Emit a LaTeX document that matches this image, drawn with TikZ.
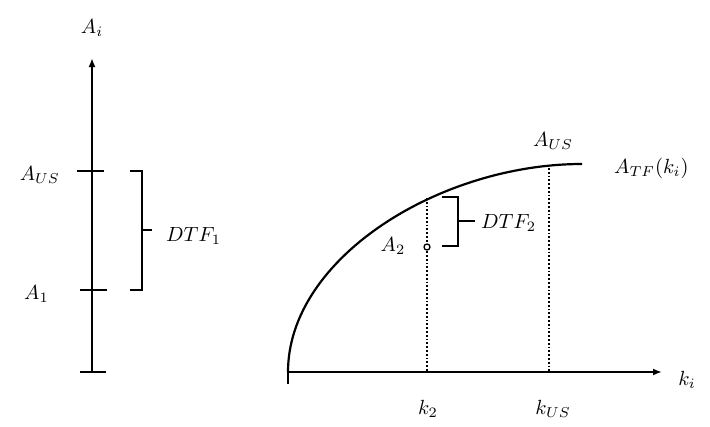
\documentclass[tikz,border=0pt]{standalone}
\usetikzlibrary{arrows.meta}
\newcommand\lab[1]{\scalebox{2.05}{$#1$}}
\begin{document}
\begin{tikzpicture}[x=1pt,y=-1pt,
  axis/.style={line width=2.2pt,-{Latex[length=9pt,width=7pt]}},
  plain/.style={line width=2.2pt},
  tickline/.style={line width=2pt},
  brace/.style={line width=1.8pt},
  guide/.style={line width=1.8pt,dotted},
  lbl/.style={inner sep=0pt}]
\useasboundingbox (0,0) rectangle (710,426);
% left axis
\coordinate (lb) at (92,372);
\coordinate (lt) at (92,58);
\draw[axis] (lb) -- (lt);
\node[lbl] (Ai) at (92,28) {\lab{A_i}};
\coordinate (bt1) at (80,372); \coordinate (bt2) at (106,372);
\draw[tickline] (bt1) -- (bt2);
\coordinate (us1) at (77,171); \coordinate (us2) at (104,171);
\draw[tickline] (us1) -- (us2);
\coordinate (a11) at (80,290); \coordinate (a12) at (107,290);
\draw[tickline] (a11) -- (a12);
\node[lbl,anchor=east] (AUSl) at (60,175) {\lab{A_{US}}};
\node[lbl,anchor=east] (A1l) at (49,294) {\lab{A_1}};
% bracket 1
\draw[brace] (130,171) -- (142,171) -- (142,290) -- (130,290);
\coordinate (b1tip) at (152,230);
\draw[brace] (142,230) -- (b1tip);
\node[lbl,anchor=west] (DTF1) at (166,236) {\lab{DTF_1}};
% right axis
\coordinate (ro) at (288,372);
\coordinate (rend) at (662,372);
\draw[axis] (ro) -- (rend);
\coordinate (rdown) at (288,384);
\draw[plain] (ro) -- (rdown);
\node[lbl] (ki) at (687,380) {\lab{k_i}};
% curve
\coordinate (cend) at (582,164);
\draw[plain] (ro) .. controls (288,258) and (440,164) .. (cend);
\node[lbl] (AUSr) at (553,141) {\lab{A_{US}}};
\node[lbl,anchor=west] (ATF) at (614,168) {\lab{A_{TF}(k_i)}};
% dotted guides
\coordinate (g2t) at (427,198); \coordinate (g2b) at (427,372);
\draw[guide] (g2t) -- (g2b);
\coordinate (gut) at (549,168); \coordinate (gub) at (549,372);
\draw[guide] (gut) -- (gub);
\node[lbl] (k2) at (428,409) {\lab{k_2}};
\node[lbl] (kUS) at (553,409) {\lab{k_{US}}};
% A2 point
\node[circle,draw,line width=1.3pt,fill=white,minimum size=6pt,inner sep=0pt] (A2pt) at (427,247) {};
\node[lbl] (A2) at (393,246) {\lab{A_2}};
% bracket 2
\draw[brace] (442,197) -- (458,197) -- (458,246) -- (442,246);
\coordinate (b2tip) at (475,221);
\draw[brace] (458,221) -- (b2tip);
\node[lbl,anchor=west] (DTF2) at (481,223) {\lab{DTF_2}};
\end{tikzpicture}
\end{document}
